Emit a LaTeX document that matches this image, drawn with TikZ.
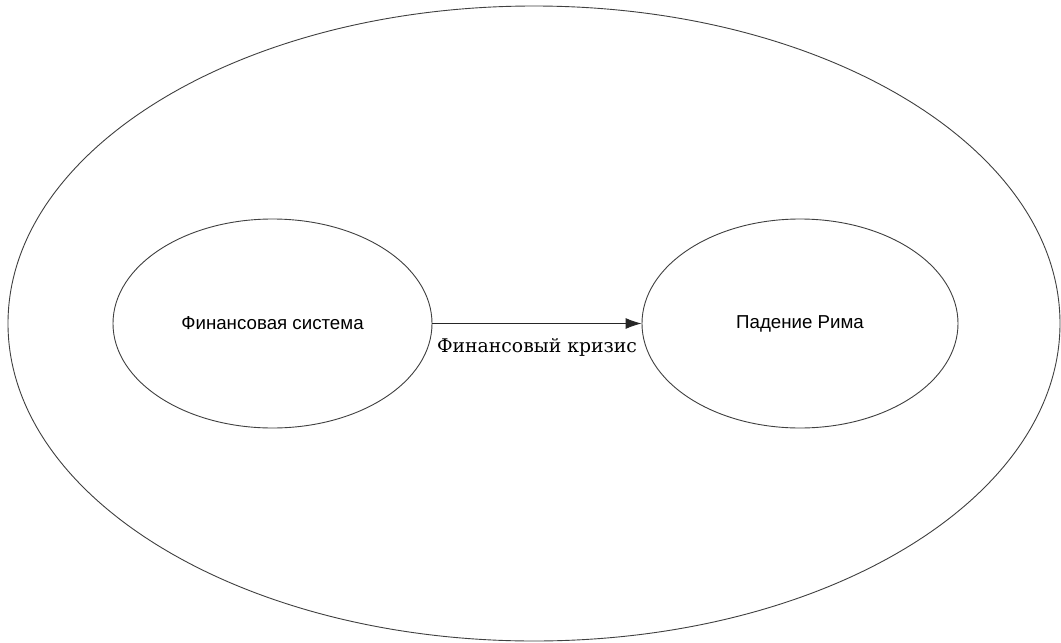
\documentclass[tikz,border=0pt]{standalone}
\usepackage{fontspec}
\setmainfont{Liberation Sans}
\newfontfamily\labelserif{DejaVu Serif}
\usetikzlibrary{shapes.geometric,arrows.meta}
\tikzset{
  oval/.style={draw=black!75, line width=0.9pt, ellipse, inner sep=0pt},
  conn/.style={draw=black!85, line width=0.9pt, -{Latex[length=16pt,width=11pt]}},
}
\begin{document}
\begin{tikzpicture}[x=1pt,y=-1pt]
\useasboundingbox[fill=white] (0,0) rectangle (1061,643);
\node[oval, minimum width=1052pt, minimum height=635pt] (outer) at (534,323.5) {};
\node[oval, minimum width=319pt, minimum height=209pt, font=\fontsize{18.7}{22}\selectfont] (fin) at (272.5,323.5) {Финансовая система};
\node[oval, minimum width=316pt, minimum height=209pt, font=\fontsize{18.7}{22}\selectfont] (rim) at (800,323.5) {Падение Рима};
\draw[conn] (fin.east) -- (rim.west) node[midway, below=11pt, font=\labelserif\fontsize{18.8}{22}\selectfont] (lab) {Финансовый кризис};
\end{tikzpicture}
\end{document}
